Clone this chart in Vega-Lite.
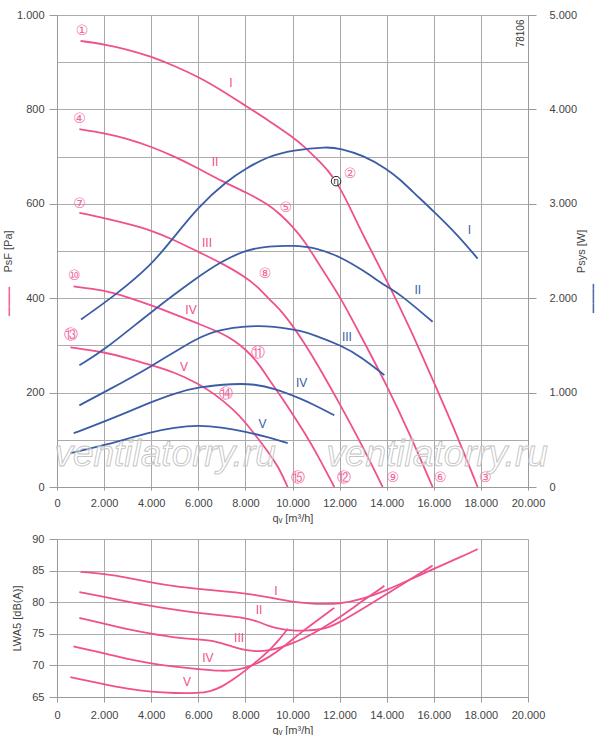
{
  "$schema": "https://vega.github.io/schema/vega-lite/v6.json",
  "background": "white",
  "padding": {"left": 2, "top": 9, "right": 0, "bottom": 0},
  "spacing": 10,
  "config": {
    "font": "Liberation Sans",
    "view": {"stroke": null},
    "axis": {
      "labelFont": "Liberation Sans",
      "labelFontSize": 11,
      "labelColor": "#444444",
      "titleFont": "Liberation Sans",
      "titleFontSize": 11,
      "titleFontWeight": "normal",
      "titleColor": "#444444",
      "domainColor": "#9a9a9a",
      "tickColor": "#9a9a9a"
    }
  },
  "datasets": {
    "pressure": [
      {"curve": "I", "q": 1000, "p": 945}, {"curve": "I", "q": 2000, "p": 938}, {"curve": "I", "q": 3000, "p": 927},
      {"curve": "I", "q": 4000, "p": 912}, {"curve": "I", "q": 5000, "p": 892}, {"curve": "I", "q": 6000, "p": 869},
      {"curve": "I", "q": 7000, "p": 840}, {"curve": "I", "q": 8000, "p": 808}, {"curve": "I", "q": 9000, "p": 776},
      {"curve": "I", "q": 10000, "p": 742}, {"curve": "I", "q": 10500, "p": 721}, {"curve": "I", "q": 11000, "p": 697},
      {"curve": "I", "q": 11500, "p": 672}, {"curve": "I", "q": 12000, "p": 636}, {"curve": "I", "q": 12500, "p": 586},
      {"curve": "I", "q": 13000, "p": 533}, {"curve": "I", "q": 14000, "p": 438}, {"curve": "I", "q": 15000, "p": 336},
      {"curve": "I", "q": 16000, "p": 222}, {"curve": "I", "q": 17000, "p": 108}, {"curve": "I", "q": 17860, "p": 0},
      {"curve": "II", "q": 950, "p": 758}, {"curve": "II", "q": 2000, "p": 750}, {"curve": "II", "q": 3000, "p": 738},
      {"curve": "II", "q": 4000, "p": 721}, {"curve": "II", "q": 5000, "p": 700}, {"curve": "II", "q": 6000, "p": 675},
      {"curve": "II", "q": 7000, "p": 648}, {"curve": "II", "q": 8000, "p": 625}, {"curve": "II", "q": 9000, "p": 598},
      {"curve": "II", "q": 9500, "p": 577}, {"curve": "II", "q": 10000, "p": 552}, {"curve": "II", "q": 10500, "p": 522},
      {"curve": "II", "q": 11000, "p": 482}, {"curve": "II", "q": 11500, "p": 443}, {"curve": "II", "q": 12000, "p": 404},
      {"curve": "II", "q": 12500, "p": 358}, {"curve": "II", "q": 13000, "p": 311}, {"curve": "II", "q": 14000, "p": 216},
      {"curve": "II", "q": 15000, "p": 110}, {"curve": "II", "q": 15950, "p": 0},
      {"curve": "III", "q": 950, "p": 581}, {"curve": "III", "q": 2000, "p": 570}, {"curve": "III", "q": 3000, "p": 558},
      {"curve": "III", "q": 4000, "p": 544}, {"curve": "III", "q": 5000, "p": 523}, {"curve": "III", "q": 6000, "p": 498},
      {"curve": "III", "q": 7000, "p": 474}, {"curve": "III", "q": 8000, "p": 445}, {"curve": "III", "q": 8500, "p": 425},
      {"curve": "III", "q": 9000, "p": 398}, {"curve": "III", "q": 9500, "p": 375}, {"curve": "III", "q": 10000, "p": 342},
      {"curve": "III", "q": 10500, "p": 305}, {"curve": "III", "q": 11000, "p": 265}, {"curve": "III", "q": 12000, "p": 177},
      {"curve": "III", "q": 13000, "p": 84}, {"curve": "III", "q": 13830, "p": 0},
      {"curve": "IV", "q": 700, "p": 425}, {"curve": "IV", "q": 2000, "p": 417}, {"curve": "IV", "q": 3000, "p": 402},
      {"curve": "IV", "q": 4000, "p": 385}, {"curve": "IV", "q": 5000, "p": 366}, {"curve": "IV", "q": 6000, "p": 346},
      {"curve": "IV", "q": 7000, "p": 326}, {"curve": "IV", "q": 7500, "p": 311}, {"curve": "IV", "q": 8000, "p": 292},
      {"curve": "IV", "q": 8500, "p": 266}, {"curve": "IV", "q": 9000, "p": 228}, {"curve": "IV", "q": 9500, "p": 193},
      {"curve": "IV", "q": 10000, "p": 155}, {"curve": "IV", "q": 10500, "p": 116}, {"curve": "IV", "q": 11000, "p": 74},
      {"curve": "IV", "q": 11776, "p": 0},
      {"curve": "V", "q": 566, "p": 296}, {"curve": "V", "q": 2000, "p": 286}, {"curve": "V", "q": 3000, "p": 273},
      {"curve": "V", "q": 4000, "p": 258}, {"curve": "V", "q": 5000, "p": 243}, {"curve": "V", "q": 6000, "p": 219},
      {"curve": "V", "q": 6700, "p": 197}, {"curve": "V", "q": 7500, "p": 164}, {"curve": "V", "q": 8000, "p": 137},
      {"curve": "V", "q": 8500, "p": 105}, {"curve": "V", "q": 9000, "p": 72}, {"curve": "V", "q": 9400, "p": 43},
      {"curve": "V", "q": 9795, "p": 0}
    ],
    "power": [
      {"curve": "I", "q": 1020, "w": 1775}, {"curve": "I", "q": 2575, "w": 2050}, {"curve": "I", "q": 3990, "w": 2350},
      {"curve": "I", "q": 4840, "w": 2605}, {"curve": "I", "q": 5975, "w": 2965}, {"curve": "I", "q": 7250, "w": 3250},
      {"curve": "I", "q": 8025, "w": 3375}, {"curve": "I", "q": 8945, "w": 3500}, {"curve": "I", "q": 10000, "w": 3570},
      {"curve": "I", "q": 11500, "w": 3605}, {"curve": "I", "q": 12017, "w": 3585}, {"curve": "I", "q": 13006, "w": 3515},
      {"curve": "I", "q": 14000, "w": 3370}, {"curve": "I", "q": 14607, "w": 3250}, {"curve": "I", "q": 15032, "w": 3145},
      {"curve": "I", "q": 16020, "w": 2915}, {"curve": "I", "q": 17013, "w": 2670}, {"curve": "I", "q": 17860, "w": 2420},
      {"curve": "II", "q": 950, "w": 1290}, {"curve": "II", "q": 2010, "w": 1450}, {"curve": "II", "q": 3990, "w": 1855},
      {"curve": "II", "q": 5975, "w": 2225}, {"curve": "II", "q": 6964, "w": 2385}, {"curve": "II", "q": 8025, "w": 2515},
      {"curve": "II", "q": 9000, "w": 2550}, {"curve": "II", "q": 10000, "w": 2560}, {"curve": "II", "q": 11027, "w": 2535},
      {"curve": "II", "q": 12017, "w": 2440}, {"curve": "II", "q": 13006, "w": 2295}, {"curve": "II", "q": 14000, "w": 2120},
      {"curve": "II", "q": 14536, "w": 2050}, {"curve": "II", "q": 15950, "w": 1750},
      {"curve": "III", "q": 950, "w": 865}, {"curve": "III", "q": 2010, "w": 1005}, {"curve": "III", "q": 3990, "w": 1270},
      {"curve": "III", "q": 5975, "w": 1590}, {"curve": "III", "q": 6964, "w": 1670}, {"curve": "III", "q": 8025, "w": 1705},
      {"curve": "III", "q": 8945, "w": 1705}, {"curve": "III", "q": 9512, "w": 1690}, {"curve": "III", "q": 10360, "w": 1655},
      {"curve": "III", "q": 10926, "w": 1610}, {"curve": "III", "q": 12060, "w": 1500}, {"curve": "III", "q": 12910, "w": 1380},
      {"curve": "III", "q": 13900, "w": 1185},
      {"curve": "IV", "q": 708, "w": 570}, {"curve": "IV", "q": 2010, "w": 690}, {"curve": "IV", "q": 3990, "w": 900},
      {"curve": "IV", "q": 4980, "w": 990}, {"curve": "IV", "q": 5975, "w": 1060}, {"curve": "IV", "q": 7530, "w": 1095},
      {"curve": "IV", "q": 8380, "w": 1090}, {"curve": "IV", "q": 9230, "w": 1045}, {"curve": "IV", "q": 10360, "w": 935},
      {"curve": "IV", "q": 11000, "w": 860}, {"curve": "IV", "q": 11776, "w": 760},
      {"curve": "V", "q": 566, "w": 360}, {"curve": "V", "q": 2010, "w": 440}, {"curve": "V", "q": 3990, "w": 585},
      {"curve": "V", "q": 4980, "w": 630}, {"curve": "V", "q": 5975, "w": 655}, {"curve": "V", "q": 6964, "w": 635},
      {"curve": "V", "q": 8025, "w": 585}, {"curve": "V", "q": 8945, "w": 530}, {"curve": "V", "q": 9795, "w": 465}
    ],
    "sound": [
      {"curve": "I", "q": 1000, "db": 84.8}, {"curve": "I", "q": 2000, "db": 84.5}, {"curve": "I", "q": 3000, "db": 83.9},
      {"curve": "I", "q": 4000, "db": 83.1}, {"curve": "I", "q": 5000, "db": 82.5}, {"curve": "I", "q": 6000, "db": 82.1},
      {"curve": "I", "q": 7000, "db": 81.75}, {"curve": "I", "q": 8000, "db": 81.4}, {"curve": "I", "q": 9000, "db": 80.8},
      {"curve": "I", "q": 10000, "db": 80.0}, {"curve": "I", "q": 11000, "db": 79.7}, {"curve": "I", "q": 12000, "db": 79.7},
      {"curve": "I", "q": 13000, "db": 80.5}, {"curve": "I", "q": 14000, "db": 81.9}, {"curve": "I", "q": 15000, "db": 83.6},
      {"curve": "I", "q": 16000, "db": 85.3}, {"curve": "I", "q": 17000, "db": 86.9}, {"curve": "I", "q": 17860, "db": 88.4},
      {"curve": "II", "q": 950, "db": 81.6}, {"curve": "II", "q": 2000, "db": 80.85}, {"curve": "II", "q": 3000, "db": 80.1},
      {"curve": "II", "q": 4000, "db": 79.4}, {"curve": "II", "q": 5000, "db": 78.8}, {"curve": "II", "q": 6000, "db": 78.3},
      {"curve": "II", "q": 7000, "db": 77.9}, {"curve": "II", "q": 8000, "db": 77.5}, {"curve": "II", "q": 8500, "db": 77.0},
      {"curve": "II", "q": 9000, "db": 76.2}, {"curve": "II", "q": 9500, "db": 75.75}, {"curve": "II", "q": 10000, "db": 75.5},
      {"curve": "II", "q": 10500, "db": 75.5}, {"curve": "II", "q": 11000, "db": 75.6}, {"curve": "II", "q": 11500, "db": 75.95},
      {"curve": "II", "q": 12000, "db": 76.8}, {"curve": "II", "q": 12500, "db": 77.9}, {"curve": "II", "q": 13000, "db": 79.0},
      {"curve": "II", "q": 14000, "db": 81.3}, {"curve": "II", "q": 15000, "db": 83.6}, {"curve": "II", "q": 15950, "db": 85.8},
      {"curve": "III", "q": 950, "db": 77.5}, {"curve": "III", "q": 2000, "db": 76.6}, {"curve": "III", "q": 3000, "db": 75.7},
      {"curve": "III", "q": 4000, "db": 75.0}, {"curve": "III", "q": 5000, "db": 74.4}, {"curve": "III", "q": 6000, "db": 74.1},
      {"curve": "III", "q": 6700, "db": 73.9}, {"curve": "III", "q": 7500, "db": 72.9}, {"curve": "III", "q": 8000, "db": 72.4},
      {"curve": "III", "q": 8500, "db": 72.2}, {"curve": "III", "q": 9000, "db": 72.35}, {"curve": "III", "q": 9500, "db": 72.8},
      {"curve": "III", "q": 10000, "db": 73.5}, {"curve": "III", "q": 10500, "db": 74.3}, {"curve": "III", "q": 11000, "db": 75.3},
      {"curve": "III", "q": 11500, "db": 76.4}, {"curve": "III", "q": 12000, "db": 77.6}, {"curve": "III", "q": 12500, "db": 78.9},
      {"curve": "III", "q": 13000, "db": 80.3}, {"curve": "III", "q": 13500, "db": 81.5}, {"curve": "III", "q": 13900, "db": 82.6},
      {"curve": "IV", "q": 700, "db": 73.0}, {"curve": "IV", "q": 2000, "db": 71.9}, {"curve": "IV", "q": 3000, "db": 71.0},
      {"curve": "IV", "q": 4000, "db": 70.3}, {"curve": "IV", "q": 5000, "db": 69.8}, {"curve": "IV", "q": 6000, "db": 69.4},
      {"curve": "IV", "q": 7000, "db": 69.1}, {"curve": "IV", "q": 7500, "db": 69.2}, {"curve": "IV", "q": 8000, "db": 69.6},
      {"curve": "IV", "q": 8500, "db": 70.3}, {"curve": "IV", "q": 9000, "db": 71.3}, {"curve": "IV", "q": 9500, "db": 72.6},
      {"curve": "IV", "q": 10000, "db": 74.1}, {"curve": "IV", "q": 10500, "db": 75.6}, {"curve": "IV", "q": 11000, "db": 77.0},
      {"curve": "IV", "q": 11776, "db": 79.1},
      {"curve": "V", "q": 566, "db": 68.15}, {"curve": "V", "q": 2000, "db": 67.0}, {"curve": "V", "q": 3000, "db": 66.3},
      {"curve": "V", "q": 4000, "db": 65.8}, {"curve": "V", "q": 5000, "db": 65.6}, {"curve": "V", "q": 6000, "db": 65.6},
      {"curve": "V", "q": 6500, "db": 65.85}, {"curve": "V", "q": 7000, "db": 66.6}, {"curve": "V", "q": 7500, "db": 67.8},
      {"curve": "V", "q": 8000, "db": 69.2}, {"curve": "V", "q": 8500, "db": 70.7}, {"curve": "V", "q": 9000, "db": 72.3},
      {"curve": "V", "q": 9400, "db": 73.9}, {"curve": "V", "q": 9800, "db": 75.8}
    ],
    "topLabels": [
      {"kind": "pink", "text": "I", "q": 7390, "p": 855},
      {"kind": "pink", "text": "II", "q": 6710, "p": 688},
      {"kind": "pink", "text": "III", "q": 6370, "p": 518},
      {"kind": "pink", "text": "IV", "q": 5690, "p": 374},
      {"kind": "pink", "text": "V", "q": 5390, "p": 254},
      {"kind": "blue", "text": "I", "q": 17510, "p": 544},
      {"kind": "blue", "text": "II", "q": 15320, "p": 417},
      {"kind": "blue", "text": "III", "q": 12310, "p": 318},
      {"kind": "blue", "text": "IV", "q": 10390, "p": 220},
      {"kind": "blue", "text": "V", "q": 8730, "p": 134},
      {"kind": "circ", "text": "①", "q": 1060, "p": 966},
      {"kind": "circ", "text": "④", "q": 960, "p": 780},
      {"kind": "circ", "text": "⑦", "q": 960, "p": 599},
      {"kind": "circ", "text": "⑩", "q": 735, "p": 447},
      {"kind": "circ", "text": "⑬", "q": 595, "p": 322},
      {"kind": "circ", "text": "②", "q": 12440, "p": 664},
      {"kind": "circ", "text": "⑤", "q": 9720, "p": 591},
      {"kind": "circ", "text": "⑧", "q": 8830, "p": 451},
      {"kind": "circ", "text": "⑪", "q": 8520, "p": 283},
      {"kind": "circ", "text": "⑭", "q": 7190, "p": 196},
      {"kind": "circ", "text": "③", "q": 18190, "p": 20},
      {"kind": "circ", "text": "⑥", "q": 16280, "p": 20},
      {"kind": "circ", "text": "⑨", "q": 14260, "p": 20},
      {"kind": "circ", "text": "⑫", "q": 12200, "p": 20},
      {"kind": "circ", "text": "⑮", "q": 10220, "p": 20}
    ],
    "eta": [{"text": "η", "q": 11850, "p": 648}],
    "stamp": [{"text": "78106", "q": 19700, "p": 961}],
    "watermark": [
      {"text": "ventilatorry.ru", "q": 4590, "p": 67},
      {"text": "ventilatorry.ru", "q": 16140, "p": 67}
    ],
    "bottomLabels": [
      {"text": "I", "q": 9300, "db": 81.75},
      {"text": "II", "q": 8580, "db": 78.7},
      {"text": "III", "q": 7730, "db": 74.3},
      {"text": "IV", "q": 6410, "db": 71.1},
      {"text": "V", "q": 5520, "db": 67.3}
    ]
  },
  "vconcat": [
    {
      "width": 471,
      "height": 472,
      "layer": [
        {
          "data": {"name": "pressure"},
          "mark": {"type": "line", "interpolate": "basis", "strokeWidth": 1.8, "color": "#f0508c"},
          "encoding": {
            "x": {
              "field": "q", "type": "quantitative",
              "scale": {"domain": [0, 20000], "nice": false},
              "axis": {
                "title": "qᵥ [m³/h]",
                "values": [0, 1000, 2000, 3000, 4000, 5000, 6000, 7000, 8000, 9000, 10000, 11000, 12000, 13000, 14000, 15000, 16000, 17000, 18000, 19000, 20000],
                "labelExpr": "datum.value % 2000 === 0 ? replace(format(datum.value, ','), ',', '.') : ''",
                "labelFlush": false,
                "labelOverlap": false,
                "grid": true,
                "gridColor": {"condition": {"test": "datum.value % 2000 === 0", "value": "#a8a8a8"}, "value": "#d4d4d4"},
                "gridWidth": {"condition": {"test": "datum.value % 2000 === 0", "value": 1}, "value": 1.6},
                "tickSize": 3,
                "labelPadding": 7,
                "titlePadding": 4
              }
            },
            "y": {
              "field": "p", "type": "quantitative",
              "scale": {"domain": [0, 1000], "nice": false},
              "axis": {
                "title": "PsF [Pa]",
                "values": [0, 100, 200, 300, 400, 500, 600, 700, 800, 900, 1000],
                "labelExpr": "datum.value % 200 === 0 ? replace(format(datum.value, ','), ',', '.') : ''",
                "labelOverlap": false,
                "grid": true,
                "gridColor": "#ababab",
                "tickOpacity": {"condition": {"test": "datum.value % 200 === 0", "value": 1}, "value": 0},
                "tickSize": 8,
                "labelPadding": 5,
                "titlePadding": 3
              }
            },
            "detail": {"field": "curve"}
          }
        },
        {
          "data": {"name": "power"},
          "mark": {"type": "line", "interpolate": "basis", "strokeWidth": 1.8, "color": "#3b5ca6"},
          "encoding": {
            "x": {"field": "q", "type": "quantitative", "scale": {"domain": [0, 20000], "nice": false}},
            "y": {
              "field": "w", "type": "quantitative",
              "scale": {"domain": [0, 5000], "nice": false},
              "axis": {
                "orient": "right",
                "title": "Psys [W]",
                "values": [0, 1000, 2000, 3000, 4000, 5000],
                "labelExpr": "replace(format(datum.value, ','), ',', '.')",
                "labelOverlap": false,
                "grid": false,
                "tickSize": 8,
                "labelPadding": 13,
                "titleAngle": 270,
                "titlePadding": 10
              }
            },
            "detail": {"field": "curve"}
          }
        },
        {
          "data": {"name": "topLabels"},
          "transform": [{"filter": "datum.kind === 'pink'"}],
          "mark": {"type": "text", "fontSize": 12, "color": "#f0508c"},
          "encoding": {
            "x": {"field": "q", "type": "quantitative", "scale": {"domain": [0, 20000], "nice": false}},
            "y": {
              "field": "p", "type": "quantitative",
              "scale": {"domain": [0, 1000], "nice": false},
              "axis": {
                "orient": "left", "title": "━━━━━━", "titleColor": "#f0508c", "titleFont": "DejaVu Sans",
                "titleFontSize": 8, "titleAngle": 270, "titleBaseline": "middle", "titleAlign": "center",
                "titleX": -48, "titleY": 286,
                "labels": false, "ticks": false, "domain": false, "grid": false
              }
            },
            "text": {"field": "text"}
          }
        },
        {
          "data": {"name": "topLabels"},
          "transform": [{"filter": "datum.kind === 'blue'"}],
          "mark": {"type": "text", "fontSize": 12, "color": "#3b5ca6"},
          "encoding": {
            "x": {"field": "q", "type": "quantitative", "scale": {"domain": [0, 20000], "nice": false}},
            "y": {
              "field": "p", "type": "quantitative",
              "scale": {"domain": [0, 1000], "nice": false},
              "axis": {
                "orient": "right", "title": "━━━━━━", "titleColor": "#3b5ca6", "titleFont": "DejaVu Sans",
                "titleFontSize": 8, "titleAngle": 270, "titleBaseline": "middle", "titleAlign": "center",
                "titleX": 65, "titleY": 283,
                "labels": false, "ticks": false, "domain": false, "grid": false
              }
            },
            "text": {"field": "text"}
          }
        },
        {
          "data": {"name": "topLabels"},
          "transform": [{"filter": "datum.kind === 'circ'"}],
          "mark": {"type": "text", "fontSize": 14, "color": "#f26aa2", "font": "DejaVu Sans"},
          "encoding": {
            "x": {"field": "q", "type": "quantitative", "scale": {"domain": [0, 20000], "nice": false}},
            "y": {"field": "p", "type": "quantitative", "scale": {"domain": [0, 1000], "nice": false}, "axis": null},
            "text": {"field": "text"}
          }
        },
        {
          "data": {"name": "eta"},
          "mark": {"type": "point", "shape": "circle", "size": 90, "filled": true, "fill": "white", "stroke": "#222222", "strokeWidth": 1, "opacity": 1},
          "encoding": {
            "x": {"field": "q", "type": "quantitative", "scale": {"domain": [0, 20000], "nice": false}},
            "y": {"field": "p", "type": "quantitative", "scale": {"domain": [0, 1000], "nice": false}, "axis": null}
          }
        },
        {
          "data": {"name": "eta"},
          "mark": {"type": "text", "fontSize": 9, "color": "#222222", "font": "DejaVu Sans"},
          "encoding": {
            "x": {"field": "q", "type": "quantitative", "scale": {"domain": [0, 20000], "nice": false}},
            "y": {"field": "p", "type": "quantitative", "scale": {"domain": [0, 1000], "nice": false}, "axis": null},
            "text": {"field": "text"}
          }
        },
        {
          "data": {"name": "stamp"},
          "mark": {"type": "text", "fontSize": 10, "color": "#333333", "angle": 270},
          "encoding": {
            "x": {"field": "q", "type": "quantitative", "scale": {"domain": [0, 20000], "nice": false}},
            "y": {"field": "p", "type": "quantitative", "scale": {"domain": [0, 1000], "nice": false}, "axis": null},
            "text": {"field": "text"}
          }
        },
        {
          "data": {"name": "watermark"},
          "mark": {"type": "text", "fontSize": 37, "fontStyle": "italic", "fill": "#ffffff", "fillOpacity": 0.35, "stroke": "#c4c4c4", "strokeWidth": 0.9},
          "encoding": {
            "x": {"field": "q", "type": "quantitative", "scale": {"domain": [0, 20000], "nice": false}},
            "y": {"field": "p", "type": "quantitative", "scale": {"domain": [0, 1000], "nice": false}, "axis": null},
            "text": {"field": "text"}
          }
        }
      ],
      "resolve": {"scale": {"y": "independent"}, "axis": {"y": "independent"}}
    },
    {
      "width": 471,
      "height": 158,
      "layer": [
        {
          "data": {"name": "sound"},
          "mark": {"type": "line", "interpolate": "basis", "strokeWidth": 1.8, "color": "#f0508c"},
          "encoding": {
            "x": {
              "field": "q", "type": "quantitative",
              "scale": {"domain": [0, 20000], "nice": false},
              "axis": {
                "title": "qᵥ [m³/h]",
                "values": [0, 1000, 2000, 3000, 4000, 5000, 6000, 7000, 8000, 9000, 10000, 11000, 12000, 13000, 14000, 15000, 16000, 17000, 18000, 19000, 20000],
                "labelExpr": "datum.value % 2000 === 0 ? replace(format(datum.value, ','), ',', '.') : ''",
                "labelFlush": false,
                "labelOverlap": false,
                "grid": true,
                "gridColor": {"condition": {"test": "datum.value % 2000 === 0", "value": "#a8a8a8"}, "value": "#d4d4d4"},
                "gridWidth": {"condition": {"test": "datum.value % 2000 === 0", "value": 1}, "value": 1.6},
                "tickSize": 5,
                "labelPadding": 7,
                "titlePadding": 4
              }
            },
            "y": {
              "field": "db", "type": "quantitative",
              "scale": {"domain": [65, 90], "nice": false},
              "axis": {
                "title": "LWA5 [dB(A)]",
                "values": [65, 70, 75, 80, 85, 90],
                "labelOverlap": false,
                "grid": true,
                "gridColor": "#ababab",
                "tickSize": 8,
                "labelPadding": 5,
                "titlePadding": 9
              }
            },
            "detail": {"field": "curve"}
          }
        },
        {
          "data": {"name": "bottomLabels"},
          "mark": {"type": "text", "fontSize": 12, "color": "#f0508c"},
          "encoding": {
            "x": {"field": "q", "type": "quantitative", "scale": {"domain": [0, 20000], "nice": false}},
            "y": {
              "field": "db", "type": "quantitative",
              "scale": {"domain": [65, 90], "nice": false},
              "axis": {
                "title": "LWA5 [dB(A)]",
                "values": [65, 70, 75, 80, 85, 90],
                "labelOverlap": false,
                "grid": true,
                "gridColor": "#ababab",
                "tickSize": 8,
                "labelPadding": 5,
                "titlePadding": 9
              }
            },
            "text": {"field": "text"}
          }
        }
      ]
    }
  ]
}
